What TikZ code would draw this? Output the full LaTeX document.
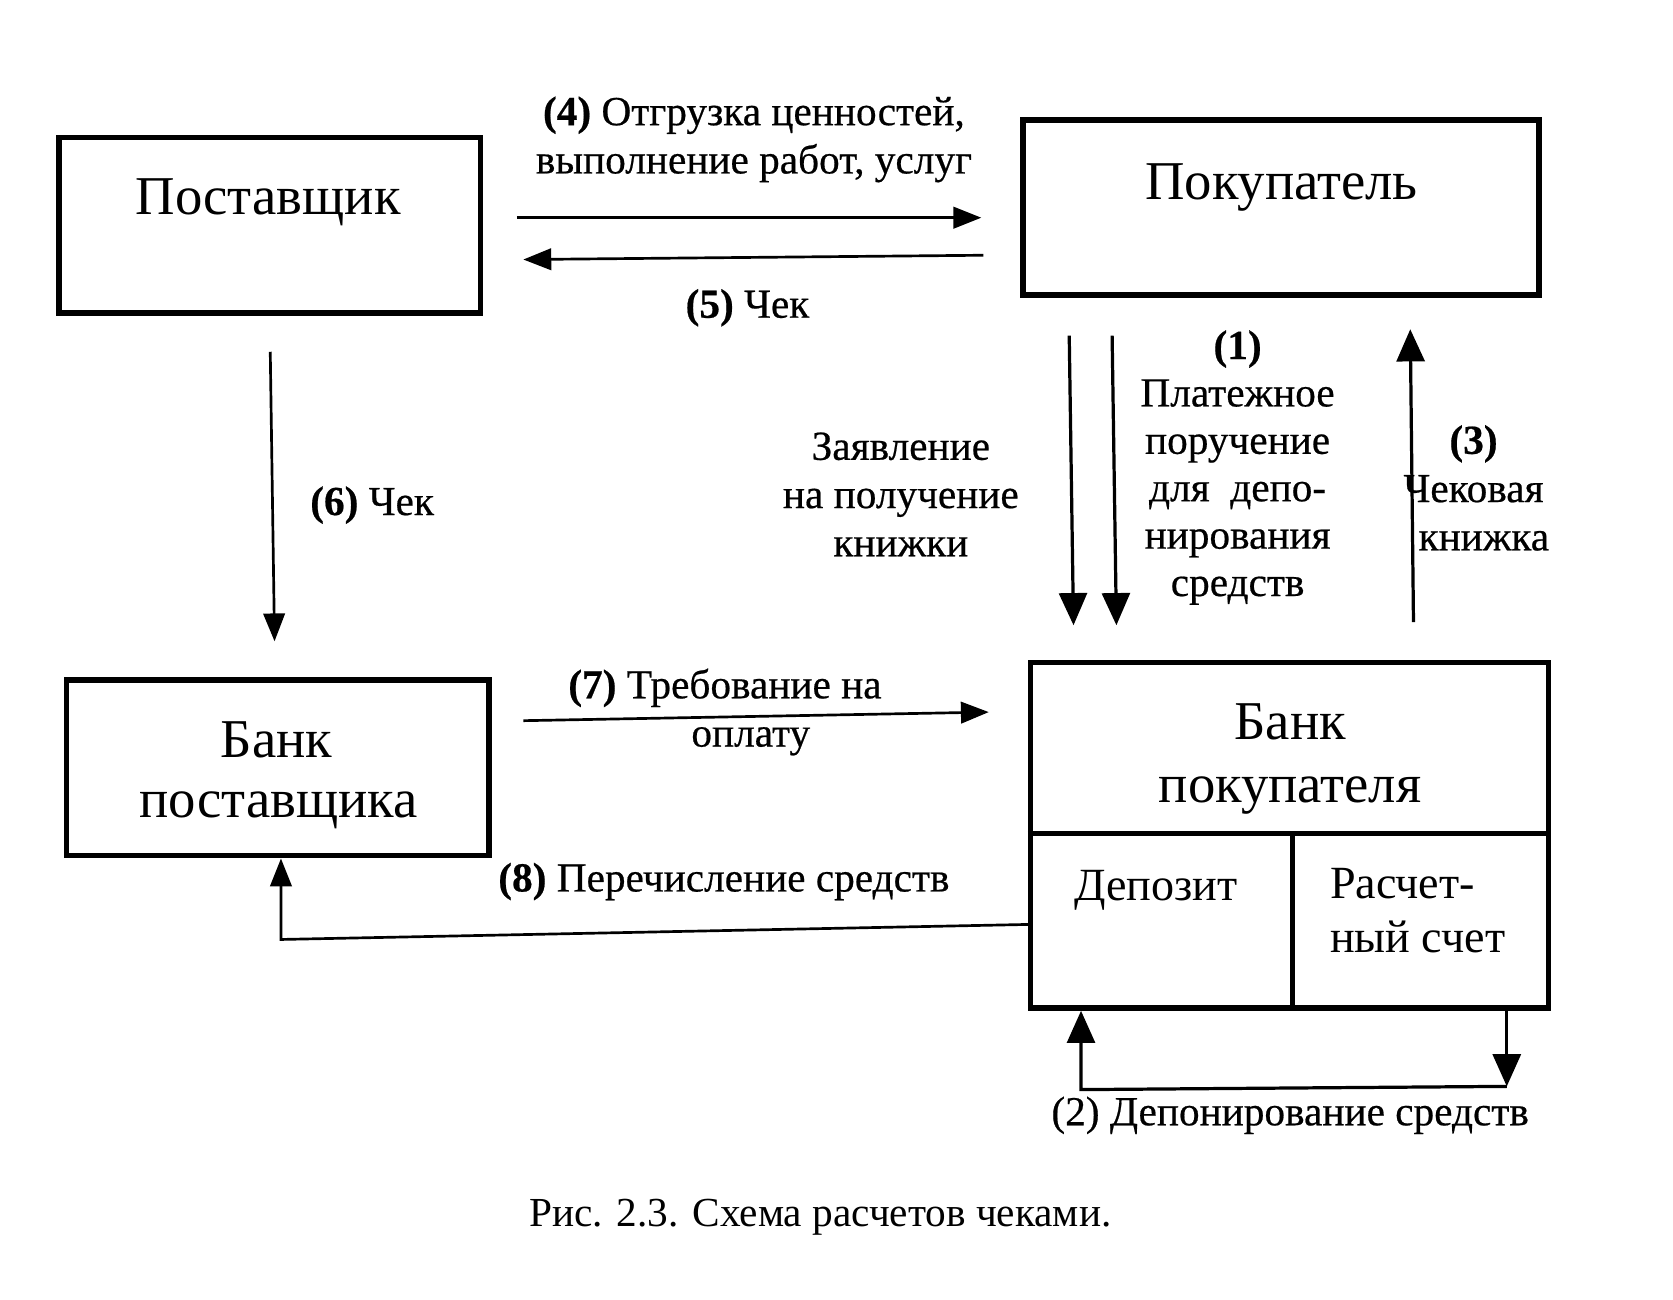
\documentclass[tikz,border=0pt]{standalone}
\usepackage{fontspec}
\setmainfont{Liberation Serif}
\newfontfamily\labfont{Liberation Serif}[FakeBold=0.5]
\usetikzlibrary{arrows.meta}
\begin{document}
\begin{tikzpicture}[x=1pt,y=-1pt,
  box/.style={draw,line width=5pt,inner sep=0pt},
  big/.style={font=\fontsize{51}{60}\selectfont,inner sep=0pt},
  lab/.style={font=\labfont\fontsize{38.5}{45}\selectfont,align=center,inner sep=0pt},
  arr/.style={line width=2.5pt,-{Triangle[length=26pt,width=20pt]}},
  arrbig/.style={line width=3pt,-{Triangle[length=30pt,width=26pt]}},
]
\useasboundingbox (0,0) rectangle (1560,1212);
% boxes
\node[box,minimum width=393pt,minimum height=164pt] (sup) at (251.5,210) {};
\node[box,minimum width=481pt,minimum height=163pt] (buy) at (1194.5,193.5) {};
\node[box,minimum width=394pt,minimum height=164pt] (bsup) at (259,716) {};
\node[box,minimum width=483pt,minimum height=322pt] (bbuy) at (1202.5,779) {};
\coordinate (dl) at (960,777);
\coordinate (dm) at (1205,777);
\draw[line width=5pt] (dl -| bbuy.west) -- (dl -| bbuy.east);
\draw[line width=5pt] (dm) -- (dm |- bbuy.south);
% box texts
\node[big,anchor=base] (tsup) at (250,200) {Поставщик};
\node[big,anchor=base] (tbuy) at (1195,186) {Покупатель};
\node[big,anchor=base] (tbs1) at (258,706) {Банк};
\node[big,anchor=base] (tbs2) at (260,762) {поставщика};
\node[big,anchor=base] (tbb1) at (1203,690) {Банк};
\node[big,anchor=base] (tbb2) at (1203,748) {покупателя};
\node[big,font=\fontsize{43}{52}\selectfont,anchor=base] (tdep) at (1078,840) {Депозит};
\node[big,font=\fontsize{43}{52}\selectfont,anchor=base west] (trs1) at (1240,838) {Расчет-};
\node[big,font=\fontsize{43}{52}\selectfont,anchor=base west] (trs2) at (1240,888) {ный счет};
% (4) and (5)
\coordinate (a4s) at (482,203); \coordinate (a4e) at (915,203);
\draw[arr] (a4s) -- (a4e);
\node[lab] (l4) at (703,130) {\textbf{(4)} Отгрузка ценностей,\\выполнение работ, услуг};
\coordinate (a5s) at (917,238); \coordinate (a5e) at (488,242);
\draw[arr] (a5s) -- (a5e);
\node[lab] (l5) at (697,287) {\textbf{(5)} Чек};
% (6)
\coordinate (a6s) at (252,328); \coordinate (a6e) at (256,598);
\draw[arr] (a6s) -- (a6e);
\node[lab] (l6) at (347,471) {\textbf{(6)} Чек};
% application and (1)
\coordinate (aas) at (997,313); \coordinate (aae) at (1001,583);
\draw[arrbig] (aas) -- (aae);
\coordinate (a1s) at (1037,313); \coordinate (a1e) at (1041,583);
\draw[arrbig] (a1s) -- (a1e);
\node[lab] (lz) at (840,461) {Заявление\\на получение\\книжки};
\node[lab,font=\labfont\fontsize{38.5}{44.2}\selectfont] (l1) at (1154,436) {\textbf{(1)}\\Платежное\\поручение\\для\ \ депо-\\нирования\\средств};
% (3)
\coordinate (a3s) at (1318,580); \coordinate (a3e) at (1315,307);
\draw[arrbig] (a3s) -- (a3e);
\node[lab] (l3) at (1374,455) {\textbf{(3)}\\Чековая\\\ \ книжка};
% (7)
\coordinate (a7s) at (488,672); \coordinate (a7e) at (922,664);
\draw[arr] (a7s) -- (a7e);
\node[lab] (l7) at (676,664) {\textbf{(7)} Требование на\\\ \ \ \ \ оплату};
% (8)
\coordinate (p8) at (bbuy.west |- 0,862);
\coordinate (c8) at (262,876);
\draw[arr] (p8) -- (c8) -- (c8 |- bsup.south);
\node[lab] (l8) at (675,822) {\textbf{(8)} Перечисление средств};
% (2)
\coordinate (q1) at (1405,1013);
\coordinate (q2) at (1008,1016);
\draw[arrbig] (q1 |- bbuy.south) -- (q1);
\draw[arrbig] (q1) -- (q2) -- (q2 |- bbuy.south);
\node[lab] (l2) at (1203,1040) {(2) Депонирование средств};
% caption
\node[font=\fontsize{38.5}{45}\selectfont,inner sep=0pt] (cap) at (765,1135) {Рис. 2.3. Схема расчетов чеками.};
\end{tikzpicture}
\end{document}
